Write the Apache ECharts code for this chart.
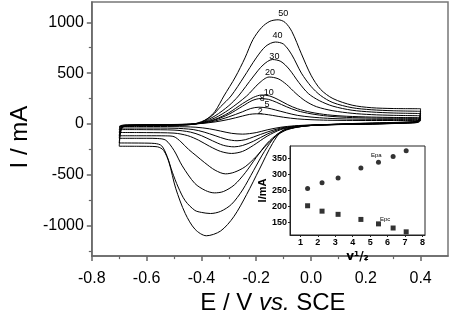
<!DOCTYPE html>
<html><head><meta charset="utf-8">
<script src="https://cdn.jsdelivr.net/npm/echarts@6/dist/echarts.min.js"></script>
<style>html,body{margin:0;padding:0;background:#fff}#c{width:450px;height:320px}</style>
</head><body><div id="c"></div>
<script>
// scan rates (labels of the curves)
const scanRates = [2, 5, 8, 10, 20, 30, 40, 50];

// anodic (forward) branches  [E / V, I / mA]
const an2  = [[-0.700,-25],[-0.696,-17],[-0.688,-12],[-0.670,-9],[-0.60,-7],[-0.50,-5],[-0.44,-1],[-0.40,5],[-0.35,20],[-0.30,45],[-0.25,78],[-0.225,94],[-0.20,100],[-0.17,96],[-0.14,84],[-0.10,66],[-0.05,50],[0.0,42],[0.06,37],[0.13,35],[0.22,34],[0.30,34],[0.40,35]];
const an5  = [[-0.700,-40],[-0.696,-24],[-0.688,-15],[-0.670,-11],[-0.60,-9],[-0.50,-6],[-0.44,-2],[-0.40,6],[-0.35,30],[-0.30,70],[-0.25,120],[-0.22,152],[-0.19,165],[-0.16,158],[-0.13,138],[-0.09,110],[-0.05,85],[0.0,68],[0.06,56],[0.13,49],[0.22,46],[0.30,45],[0.40,45]];
const an8  = [[-0.700,-55],[-0.696,-30],[-0.688,-18],[-0.670,-13],[-0.60,-10],[-0.50,-7],[-0.44,-2],[-0.40,8],[-0.35,40],[-0.30,95],[-0.25,175],[-0.215,230],[-0.185,250],[-0.155,242],[-0.125,212],[-0.09,170],[-0.05,130],[0.0,100],[0.06,78],[0.13,65],[0.22,58],[0.30,56],[0.40,55]];
const an10 = [[-0.700,-84],[-0.696,-42],[-0.688,-22],[-0.670,-15],[-0.60,-11],[-0.50,-8],[-0.44,-3],[-0.40,10],[-0.35,45],[-0.30,110],[-0.25,200],[-0.21,262],[-0.18,285],[-0.15,275],[-0.12,240],[-0.085,190],[-0.05,150],[0.0,115],[0.06,90],[0.13,76],[0.22,68],[0.30,64],[0.40,62]];
const an20 = [[-0.700,-116],[-0.696,-55],[-0.688,-25],[-0.670,-16],[-0.60,-12],[-0.50,-9],[-0.44,-4],[-0.40,12],[-0.35,60],[-0.30,140],[-0.235,275],[-0.19,400],[-0.153,462],[-0.12,445],[-0.09,390],[-0.055,300],[-0.02,225],[0.02,170],[0.08,130],[0.15,105],[0.22,92],[0.30,85],[0.40,81]];
const an30 = [[-0.700,-141],[-0.696,-65],[-0.688,-28],[-0.670,-18],[-0.60,-13],[-0.50,-10],[-0.44,-5],[-0.40,15],[-0.35,80],[-0.30,180],[-0.265,275],[-0.212,462],[-0.175,580],[-0.141,634],[-0.11,615],[-0.08,540],[-0.045,410],[-0.01,300],[0.03,230],[0.08,175],[0.15,135],[0.22,118],[0.30,108],[0.40,103]];
const an40 = [[-0.700,-187],[-0.696,-85],[-0.688,-32],[-0.670,-19],[-0.60,-14],[-0.50,-11],[-0.44,-6],[-0.40,18],[-0.36,85],[-0.33,170],[-0.292,275],[-0.245,462],[-0.20,650],[-0.165,765],[-0.13,806],[-0.10,785],[-0.07,680],[-0.035,500],[0.0,370],[0.035,280],[0.08,210],[0.15,160],[0.22,140],[0.30,130],[0.40,125]];
const an50 = [[-0.700,-219],[-0.696,-100],[-0.688,-35],[-0.670,-20],[-0.60,-15],[-0.50,-12],[-0.44,-6],[-0.40,22],[-0.376,56],[-0.35,125],[-0.318,275],[-0.276,462],[-0.241,650],[-0.212,830],[-0.18,950],[-0.15,1010],[-0.12,1025],[-0.095,1000],[-0.07,910],[-0.035,690],[0.0,480],[0.035,340],[0.08,250],[0.15,185],[0.22,160],[0.30,152],[0.40,150]];

// cathodic (reverse) branches  [E / V, I / mA]
const ca2  = [[0.40,35],[0.396,22],[0.388,14],[0.37,10],[0.30,4],[0.20,-2],[0.10,-5],[0.0,-10],[-0.06,-18],[-0.11,-32],[-0.16,-58],[-0.20,-85],[-0.25,-100],[-0.29,-92],[-0.33,-70],[-0.37,-48],[-0.42,-32],[-0.50,-26],[-0.60,-25],[-0.70,-25]];
const ca5  = [[0.40,45],[0.396,28],[0.388,16],[0.37,12],[0.30,5],[0.20,-2],[0.10,-6],[0.0,-12],[-0.06,-22],[-0.11,-40],[-0.16,-80],[-0.21,-128],[-0.24,-155],[-0.27,-165],[-0.31,-150],[-0.35,-115],[-0.39,-80],[-0.43,-55],[-0.50,-42],[-0.60,-40],[-0.70,-40]];
const ca8  = [[0.40,55],[0.396,32],[0.388,18],[0.37,13],[0.30,6],[0.20,-1],[0.10,-6],[0.0,-13],[-0.06,-25],[-0.11,-48],[-0.16,-100],[-0.21,-170],[-0.25,-212],[-0.28,-225],[-0.32,-210],[-0.36,-165],[-0.40,-115],[-0.44,-80],[-0.50,-60],[-0.60,-56],[-0.70,-55]];
const ca10 = [[0.40,62],[0.396,35],[0.388,20],[0.37,14],[0.30,7],[0.20,0],[0.10,-5],[0.0,-14],[-0.06,-28],[-0.11,-55],[-0.16,-120],[-0.21,-210],[-0.25,-270],[-0.29,-290],[-0.33,-270],[-0.37,-220],[-0.41,-160],[-0.45,-115],[-0.50,-90],[-0.60,-85],[-0.70,-84]];
const ca20 = [[0.40,81],[0.396,40],[0.388,22],[0.37,16],[0.30,9],[0.20,2],[0.10,-4],[0.0,-15],[-0.05,-32],[-0.09,-60],[-0.12,-105],[-0.16,-200],[-0.20,-320],[-0.24,-420],[-0.28,-475],[-0.312,-491],[-0.35,-455],[-0.388,-381],[-0.42,-310],[-0.447,-250],[-0.475,-175],[-0.50,-125],[-0.53,-117],[-0.60,-116],[-0.70,-116]];
const ca30 = [[0.40,103],[0.396,48],[0.388,25],[0.37,18],[0.30,11],[0.20,4],[0.10,-3],[0.0,-15],[-0.05,-30],[-0.09,-55],[-0.12,-95],[-0.16,-190],[-0.20,-330],[-0.24,-480],[-0.28,-600],[-0.32,-665],[-0.353,-678],[-0.385,-655],[-0.424,-585],[-0.47,-412],[-0.50,-260],[-0.53,-160],[-0.56,-143],[-0.60,-141],[-0.70,-141]];
const ca40 = [[0.40,125],[0.396,55],[0.388,28],[0.37,20],[0.30,13],[0.20,6],[0.10,-2],[0.0,-15],[-0.06,-32],[-0.10,-62],[-0.13,-120],[-0.17,-270],[-0.21,-460],[-0.25,-650],[-0.29,-790],[-0.33,-860],[-0.367,-881],[-0.40,-870],[-0.424,-850],[-0.459,-756],[-0.485,-620],[-0.506,-475],[-0.525,-320],[-0.545,-215],[-0.57,-192],[-0.62,-188],[-0.70,-187]];
const ca50 = [[0.40,150],[0.396,60],[0.388,30],[0.37,22],[0.30,15],[0.20,8],[0.10,0],[0.0,-15],[-0.06,-35],[-0.106,-69],[-0.141,-194],[-0.188,-444],[-0.235,-694],[-0.282,-913],[-0.33,-1053],[-0.382,-1100],[-0.423,-1037],[-0.459,-881],[-0.494,-632],[-0.518,-381],[-0.538,-260],[-0.56,-225],[-0.60,-220],[-0.70,-219]];

// axis ticks of the main plot
const xTickValues = [-0.8, -0.6, -0.4, -0.2, 0.0, 0.2, 0.4];
const xMinorValues = [-0.7, -0.5, -0.3, -0.1, 0.1, 0.3];
const yTickValues = [-1000, -500, 0, 500, 1000];
const yMinorValues = [-1250, -750, -250, 250, 750];

// inset: peak data vs square root of scan rate
const insetX = [1.41, 2.24, 3.16, 4.47, 5.48, 6.32, 7.07];
const insetEpa = [256, 274, 289, 321, 339, 357, 375];
const insetEpc = [202, 185, 175, 159, 145, 132, 120];
const insetXTicks = [1, 2, 3, 4, 5, 6, 7, 8];
const insetYTicks = [150, 200, 250, 300, 350];

const anodic = [an2, an5, an8, an10, an20, an30, an40, an50];
const cathodic = [ca2, ca5, ca8, ca10, ca20, ca30, ca40, ca50];
const labelOffsets = [[4,2],[8,2],[2,4.5],[7,2],[1,0],[2,1.5],[2,-2],[5,-2]];

const FONT = 'Liberation Sans, Arial, sans-serif';
const lineStyle = {color: '#000', width: 1};
const series = [];
scanRates.forEach((r, i) => {
  const a = anodic[i];
  let pk = a[0];
  a.forEach(p => { if (p[1] > pk[1]) pk = p; });
  series.push({
    type: 'line', xAxisIndex: 0, yAxisIndex: 0, data: a, showSymbol: false,
    smooth: 0.3, lineStyle, silent: true, animation: false, z: 2,
    markPoint: {
      symbol: 'circle', symbolSize: 0, silent: true,
      data: [{coord: pk}],
      label: {show: true, formatter: String(r), fontSize: 9, fontFamily: FONT, color: '#000',
              position: 'top', distance: 0, offset: labelOffsets[i]}
    }
  });
  series.push({
    type: 'line', xAxisIndex: 0, yAxisIndex: 0, data: cathodic[i], showSymbol: false,
    smooth: 0.3, lineStyle, silent: true, animation: false, z: 2
  });
});
series.push({
  type: 'scatter', xAxisIndex: 2, yAxisIndex: 2, symbol: 'circle', symbolSize: 5, z: 20,
  itemStyle: {color: '#000'}, data: insetX.map((x, i) => [x, insetEpa[i]]), animation: false
});
series.push({
  type: 'scatter', xAxisIndex: 2, yAxisIndex: 2, symbol: 'rect', symbolSize: 5, z: 20,
  itemStyle: {color: '#000'}, data: insetX.map((x, i) => [x, insetEpc[i]]), animation: false
});

const axisCol = '#666';
const chart = echarts.init(document.getElementById('c'), null, {renderer: 'canvas'});
chart.setOption({
  backgroundColor: '#fff',
  animation: false,
  grid: [
    {left: 80, top: 2, width: 368, height: 265, show: true, borderColor: '#777', borderWidth: 1.5, backgroundColor: 'transparent'},
    {left: 290, top: 146, width: 135, height: 89, show: true, borderColor: '#222', borderWidth: 1, backgroundColor: '#fff', z: 5}
  ],
  xAxis: [
    {type: 'value', gridIndex: 0, min: -0.8, max: 0.5, position: 'bottom',
     axisLine: {onZero: false, lineStyle: {color: axisCol, width: 1.5}},
     axisTick: {show: true, inside: false, length: 5, customValues: xTickValues, lineStyle: {color: axisCol, width: 1.5}},
     axisLabel: {customValues: xTickValues, formatter: v => v.toFixed(1), fontSize: 16, fontFamily: FONT, color: '#000', margin: 14},
     splitLine: {show: false},
     name: '{n|E / V }{i|vs.}{n| SCE}', nameLocation: 'middle', nameGap: 29,
     nameTextStyle: {padding: [0, 0, 0, 6], rich: {n: {fontSize: 24, fontFamily: FONT, color: '#000'}, i: {fontSize: 24, fontFamily: FONT, fontStyle: 'italic', color: '#000'}}}},
    {type: 'value', gridIndex: 0, min: -0.8, max: 0.5, position: 'bottom',
     axisLine: {show: false, onZero: false},
     axisTick: {show: true, inside: false, length: 3, customValues: xMinorValues, lineStyle: {color: axisCol, width: 1.2}},
     axisLabel: {show: false}, splitLine: {show: false}},
    {type: 'value', gridIndex: 1, min: 0.4, max: 8.15, position: 'bottom',
     axisLine: {onZero: false, lineStyle: {color: '#222', width: 1}},
     axisTick: {show: true, length: 2, customValues: insetXTicks, lineStyle: {color: '#222'}},
     axisLabel: {customValues: insetXTicks, fontSize: 9, fontWeight: 'bold', fontFamily: FONT, color: '#000', margin: 3},
     splitLine: {show: false}, z: 6,
     name: 'v\u00b9/\u2082', nameLocation: 'middle', nameGap: 16,
     nameTextStyle: {fontSize: 12, fontWeight: 'bold', fontFamily: 'DejaVu Sans, sans-serif', color: '#000'}}
  ],
  yAxis: [
    {type: 'value', gridIndex: 0, min: -1300, max: 1200, position: 'left',
     axisLine: {onZero: false, lineStyle: {color: axisCol, width: 1.5}},
     axisTick: {show: true, inside: false, length: 5, customValues: yTickValues, lineStyle: {color: axisCol, width: 1.5}},
     axisLabel: {customValues: yTickValues, formatter: v => String(v), fontSize: 16, fontFamily: FONT, color: '#000', margin: 8},
     splitLine: {show: false},
     name: 'I / mA', nameLocation: 'middle', nameGap: 52, nameRotate: 90,
     nameTextStyle: {fontSize: 24, fontFamily: FONT, color: '#000', padding: [0, 16, 0, 0]}},
    {type: 'value', gridIndex: 0, min: -1300, max: 1200, position: 'left',
     axisLine: {show: false, onZero: false},
     axisTick: {show: true, inside: false, length: 3, customValues: yMinorValues, lineStyle: {color: axisCol, width: 1.2}},
     axisLabel: {show: false}, splitLine: {show: false}},
    {type: 'value', gridIndex: 1, min: 110, max: 390, position: 'left',
     axisLine: {onZero: false, lineStyle: {color: '#222', width: 1}},
     axisTick: {show: true, length: 2, customValues: insetYTicks, lineStyle: {color: '#222'}},
     axisLabel: {customValues: insetYTicks, formatter: v => String(v), fontSize: 9, fontWeight: 'bold', fontFamily: FONT, color: '#000', margin: 3},
     splitLine: {show: false}, z: 6,
     name: 'I/mA', nameLocation: 'middle', nameGap: 21, nameRotate: 90,
     nameTextStyle: {fontSize: 11, fontWeight: 'bold', fontFamily: FONT, color: '#000'}}
  ],
  graphic: [
    {type: 'text', left: 371, top: 152, z: 10, style: {text: 'Epa', fontSize: 6, fontFamily: FONT, fill: '#000'}},
    {type: 'text', left: 380, top: 216, z: 10, style: {text: 'Epc', fontSize: 6, fontFamily: FONT, fill: '#000'}}
  ],
  series
});
</script></body></html>
